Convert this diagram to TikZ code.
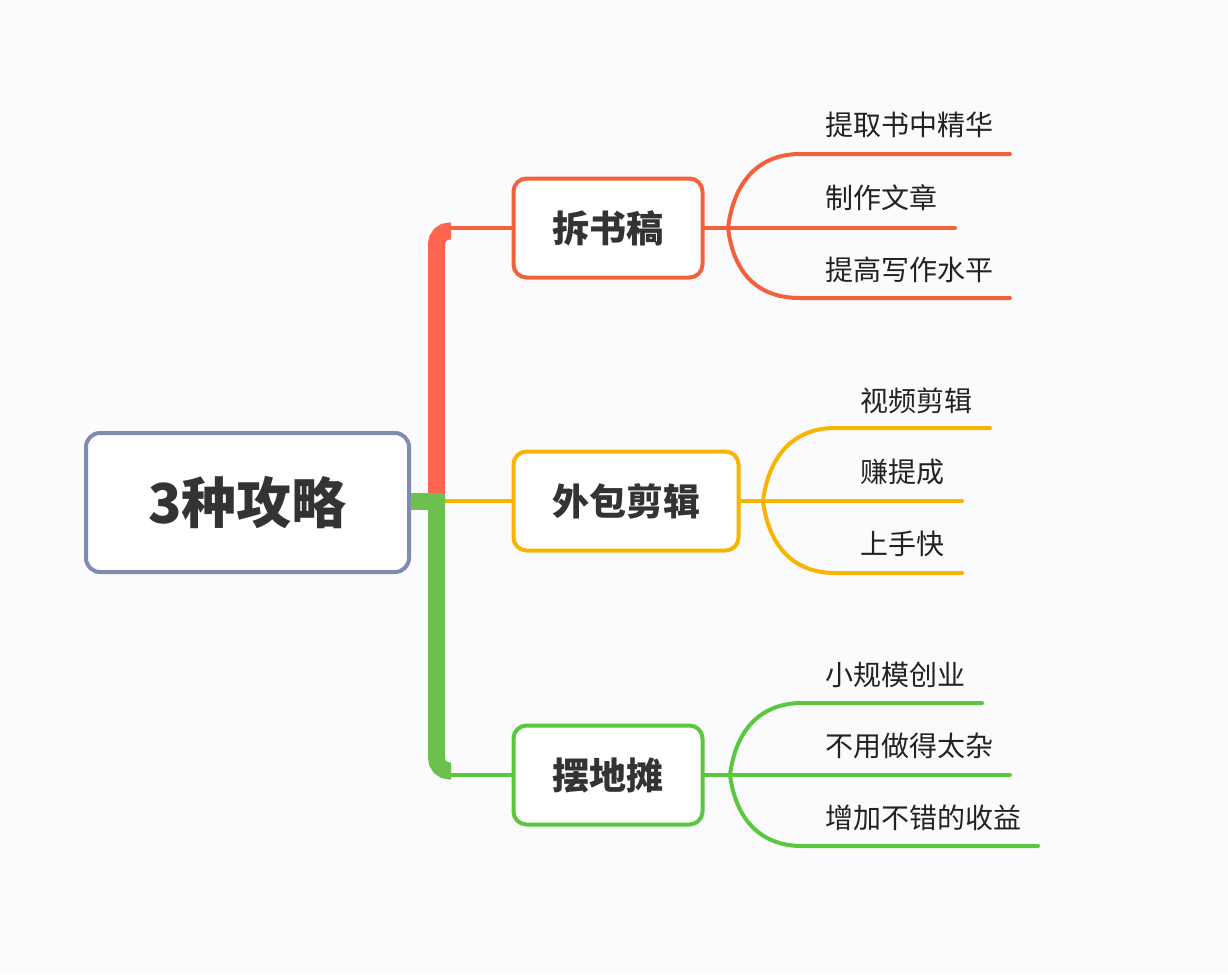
\documentclass[tikz,border=0pt]{standalone}
\usepackage{fontspec}
\newfontfamily\cjk{Noto Sans CJK SC}
\usetikzlibrary{calc}
\definecolor{rootline}{HTML}{7D8CAF}
\definecolor{bookred}{HTML}{F2603C}
\definecolor{trunkred}{HTML}{FF6450}
\definecolor{edityellow}{HTML}{F7B400}
\definecolor{stallgreen}{HTML}{5AC83C}
\definecolor{trunkgreen}{HTML}{6CC14E}
\definecolor{inktext}{HTML}{333333}
\definecolor{leafink}{HTML}{222222}
\definecolor{paper}{HTML}{FBFBFD}

\tikzset{
  rootbox/.style={draw=rootline, fill=white, line width=4pt, rounded corners=14,
    minimum width=323pt, minimum height=139pt, inner sep=0pt, text=inktext,
    font=\cjk\bfseries\fontsize{55}{60}\selectfont},
  topicbox/.style={draw, fill=white, line width=4pt, rounded corners=13,
    minimum height=99pt, inner sep=0pt, text=inktext,
    font=\cjk\bfseries\fontsize{37}{44}\selectfont},
  leaf/.style={anchor=west, inner sep=0pt, text=leafink,
    font=\cjk\fontsize{28}{34}\selectfont},
  branch/.style={line width=4pt, line cap=round},
  trunk/.style={line width=17pt, rounded corners=13},
}

\begin{document}
\begin{tikzpicture}[x=1pt,y=-1pt]
  % canvas
  \fill[paper] (0,0) rectangle (1228,974);

  % topics
  \node[rootbox] (root) at (247.5,502.5) {3种攻略};
  \node[topicbox, draw=bookred, minimum width=189pt] (book) at (608,228) {拆书稿};
  \node[topicbox, draw=edityellow, minimum width=225pt] (edit) at (626,501) {外包剪辑};
  \node[topicbox, draw=stallgreen, minimum width=189pt] (stall) at (608,775) {摆地摊};

  % trunk
  \coordinate (hub) at (436.5,501);
  \coordinate (redcorner) at (451,231);
  \coordinate (greencorner) at (451,771);
  \draw[branch,edityellow] (hub) -- (edit.west);
  \draw[branch,bookred] (redcorner |- book.west) -- (book.west);
  \draw[branch,stallgreen] (greencorner |- stall.west) -- (stall.west);
  \draw[trunk,trunkred] (hub) |- (redcorner);
  \draw[trunk,trunkgreen] (hub) |- (greencorner);
  \draw[line width=17pt,trunkgreen] (root.east |- hub) -- ($(hub)+(8.5,0)$);

  % 拆书稿 leaves
  \coordinate (bookfork) at (728,228);
  \node[leaf] (b1) at (825,125) {提取书中精华};
  \node[leaf] (b2) at (825,198) {制作文章};
  \node[leaf] (b3) at (825,270) {提高写作水平};
  \coordinate (b1end) at (1010,154);
  \coordinate (b2end) at (955,228);
  \coordinate (b3end) at (1010,298);
  \draw[branch,bookred] (book.east) -- (bookfork);
  \draw[branch,bookred] (bookfork) .. controls +(6,-48) and +(-40,0) .. (800,154) -- (b1end);
  \draw[branch,bookred] (bookfork) -- (b2end);
  \draw[branch,bookred] (bookfork) .. controls +(6,48) and +(-40,0) .. (800,298) -- (b3end);

  % 外包剪辑 leaves
  \coordinate (editfork) at (763,501);
  \node[leaf] (e1) at (860,401) {视频剪辑};
  \node[leaf] (e2) at (860,472) {赚提成};
  \node[leaf] (e3) at (860,544) {上手快};
  \coordinate (e1end) at (990,428);
  \coordinate (e2end) at (962,501);
  \coordinate (e3end) at (962,573);
  \draw[branch,edityellow] (edit.east) -- (editfork);
  \draw[branch,edityellow] (editfork) .. controls +(6,-47) and +(-40,0) .. (835,428) -- (e1end);
  \draw[branch,edityellow] (editfork) -- (e2end);
  \draw[branch,edityellow] (editfork) .. controls +(6,47) and +(-40,0) .. (835,573) -- (e3end);

  % 摆地摊 leaves
  \coordinate (stallfork) at (730,775);
  \node[leaf] (s1) at (825,675) {小规模创业};
  \node[leaf] (s2) at (825,746) {不用做得太杂};
  \node[leaf] (s3) at (825,818) {增加不错的收益};
  \coordinate (s1end) at (982,703);
  \coordinate (s2end) at (1010,775);
  \coordinate (s3end) at (1038,846);
  \draw[branch,stallgreen] (stall.east) -- (stallfork);
  \draw[branch,stallgreen] (stallfork) .. controls +(6,-47) and +(-40,0) .. (802,703) -- (s1end);
  \draw[branch,stallgreen] (stallfork) -- (s2end);
  \draw[branch,stallgreen] (stallfork) .. controls +(6,46) and +(-40,0) .. (802,846) -- (s3end);
\end{tikzpicture}
\end{document}
